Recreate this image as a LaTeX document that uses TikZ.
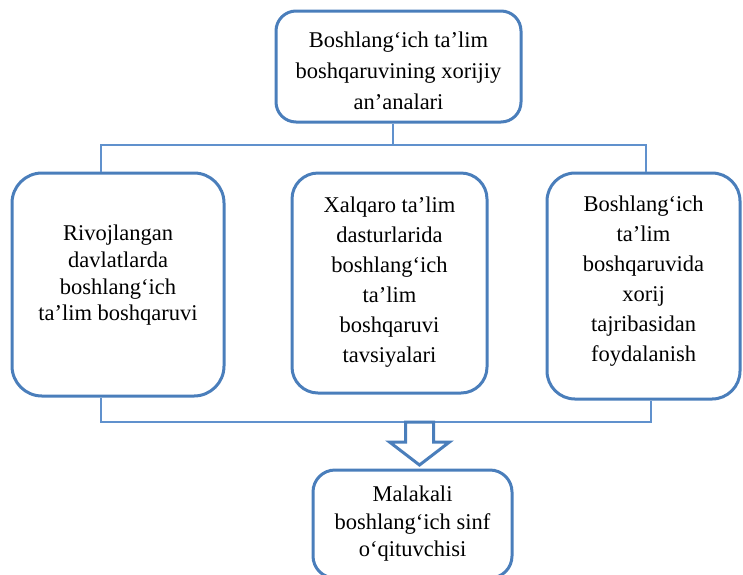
\documentclass[tikz,border=0pt]{standalone}
\usepackage{fontspec}
\setmainfont{Liberation Serif}
\usepackage{tikz}
\usetikzlibrary{calc,positioning}

\definecolor{boxblue}{RGB}{74,126,187}
\definecolor{linkblue}{RGB}{96,145,205}

\tikzset{
	box/.style={draw=boxblue, line width=3pt, rounded corners=28pt, inner sep=0pt},
	txt/.style={align=center, inner sep=0pt, font=\fontsize{22.5}{30}\selectfont},
	link/.style={draw=linkblue, line width=1.4pt},
	fatarrow/.style={draw=boxblue, line width=3pt, fill=white, line join=miter}
}

\begin{document}
\begin{tikzpicture}[x=1pt, y=-1pt]
	\clip (0,0) rectangle (743,574);

	% Top box
	\node [box, rounded corners=20pt, minimum width=245pt, minimum height=111pt] (top) at (398.5,66.5) {};
	\node [txt, font=\fontsize{22.5}{31}\selectfont] (toptxt) at (398.5,70.6) {Boshlang‘ich ta’lim\\boshqaruvining xorijiy\\an’analari};

	% Three boxes in the middle row
	\node [box, rounded corners=30pt, minimum width=212pt, minimum height=223pt] (rivoj) at (118,284.5) {};
	\node [txt, font=\fontsize{22.5}{26.7}\selectfont] (rivojtxt) at (118,275.5) {Rivojlangan\\davlatlarda\\boshlang‘ich\\ta’lim boshqaruvi};

	\node [box, rounded corners=26pt, minimum width=195pt, minimum height=220pt] (xalqaro) at (389.5,283) {};
	\node [txt] (xalqarotxt) at (389.5,282.5) {Xalqaro ta’lim\\dasturlarida\\boshlang‘ich\\ta’lim\\boshqaruvi\\tavsiyalari};

	\node [box, minimum width=193pt, minimum height=226pt] (tajriba) at (643.5,286) {};
	\node [txt] (tajribatxt) at (643.5,281.5) {Boshlang‘ich\\ta’lim\\boshqaruvida\\xorij\\tajribasidan\\foydalanish};

	% Bottom box
	\node [box, rounded corners=22pt, minimum width=199pt, minimum height=108pt] (malaka) at (412.5,524) {};
	\node [txt, font=\fontsize{22.5}{27.5}\selectfont] (malakatxt) at (412.5,524) {Malakali\\boshlang‘ich sinf\\o‘qituvchisi};

	% Bracket lines above and below the middle row
	\coordinate (jt) at (393,145);
	\coordinate (jl) at (101,145);
	\coordinate (jr) at (646,145);
	\draw[link] (top.south -| jt) -- (jt);
	\draw[link] (rivoj.north -| jl) -- (jl) -- (jr) -- (tajriba.north -| jr);

	\coordinate (bl) at (101,422);
	\coordinate (br) at (651,422);
	\draw[link] (rivoj.south -| bl) -- (bl) -- (br) -- (tajriba.south -| br);

	% Hollow arrow down to the bottom box
	\coordinate (arr) at (419.5,422);
	\draw[fatarrow] ($(arr)+(-14,0)$) -- ++(0,20) -- ++(-16,0) -- ($(arr)+(0,43)$) -- ($(arr)+(30,20)$) -- ++(-16,0) -- ($(arr)+(14,0)$) -- cycle;
\end{tikzpicture}
\end{document}
